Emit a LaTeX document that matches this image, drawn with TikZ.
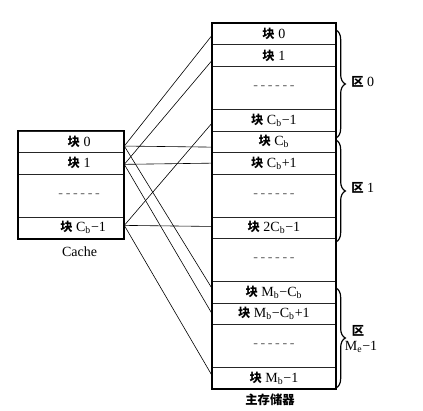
\documentclass[tikz,border=0pt]{standalone}
\usepackage{fontspec}
\setmainfont{Liberation Serif}
\newfontfamily\cjk[Scale=0.88]{Noto Sans CJK SC}
\usetikzlibrary{decorations.pathreplacing}
\newcommand\kuai{{\cjk\bfseries 块}\ }
\newcommand\qu{{\cjk\bfseries 区}}
\newcommand\dashrow{\textcolor{black!60}{-\kern2pt-\kern2pt-\kern2pt-\kern2pt-\kern2pt-}}
\newcommand\sbs[1]{\textsubscript{#1}}
\begin{document}
\begin{tikzpicture}[x=0.75pt,y=-0.75pt,
  font=\fontsize{10.5}{12}\selectfont,
  mcell/.style={draw=black!85, line width=0.6pt, minimum width=123*0.75pt,
    minimum height=21.5*0.75pt, inner sep=0pt, anchor=north west},
  ccell/.style={mcell, minimum width=105.5*0.75pt},
  tworow/.style={minimum height=43*0.75pt},
  ctext/.style={inner sep=0pt},
  outer/.style={draw=black, line width=1.3pt},
  link/.style={draw=black, line width=0.45pt},
  brc/.style={draw=black, line width=0.9pt, decorate,
    decoration={brace, amplitude=7pt}},
  lbl/.style={inner sep=0pt}]
\useasboundingbox (0,0) rectangle (423,410);

% main memory
\node[mcell] (m0) at (212,23) {\kuai 0};
\node[mcell] (m1) at (212,44.5) {\kuai 1};
\node[mcell,tworow] (m2) at (212,66) {\dashrow};
\node[mcell] (m4) at (212,109) {\kuai C\sbs{b}−1};
\node[mcell] (m5) at (212,130.5) {\kuai C\sbs{b}};
\node[mcell] (m6) at (212,152) {\kuai C\sbs{b}+1};
\node[mcell,tworow] (m7) at (212,173.5) {\dashrow};
\node[mcell] (m9) at (212,216.5) {\kuai 2C\sbs{b}−1};
\node[mcell,tworow] (m10) at (212,238) {\dashrow};
\node[mcell] (m12) at (212,281) {\kuai M\sbs{b}−C\sbs{b}};
\node[mcell] (m13) at (212,302.5) {\kuai M\sbs{b}−C\sbs{b}+1};
\node[mcell,tworow] (m14) at (212,324) {\dashrow};
\node[mcell] (m16) at (212,367) {\kuai M\sbs{b}−1};
\draw[outer] (m0.north west) rectangle (m16.south east);

% cache
\node[ccell] (c0) at (18,130.5) {};
\node[ccell] (c1) at (18,152) {};
\node[ccell,tworow] (c2) at (18,173.5) {};
\node[ccell] (c3) at (18,216.5) {};
\draw[outer] (c0.north west) rectangle (c3.south east);
\node[ctext] (tc0) at ([xshift=6pt]c0.center) {\kuai 0};
\node[ctext] (tc1) at ([xshift=6pt]c1.center) {\kuai 1};
\node[ctext] (tc2) at ([xshift=6pt]c2.center) {\dashrow};
\node[ctext] (tc3) at ([xshift=9pt]c3.center) {\kuai C\sbs{b}−1};

% mapping lines
\draw[link] ([yshift=-3.3pt]c0.east) -- ([yshift=-0.9pt]m0.west);
\draw[link] ([yshift=-3.3pt]c0.east) -- ([yshift=-4.1pt]m5.west);
\draw[link] ([yshift=-3.3pt]c0.east) -- ([yshift=2.8pt]m12.west);
\draw[link] ([yshift=-0.9pt]c1.east) -- ([yshift=-3.6pt]m1.west);
\draw[link] ([yshift=-0.9pt]c1.east) -- (m6.west);
\draw[link] ([yshift=-0.9pt]c1.east) -- (m13.west);
\draw[link] ([yshift=1.7pt]c3.east) -- ([yshift=-2.2pt]m4.west);
\draw[link] ([yshift=1.7pt]c3.east) -- ([yshift=0.9pt]m9.west);
\draw[link] ([yshift=1.7pt]c3.east) -- ([yshift=2pt]m16.west);

% braces
\draw[brc] (336,30) -- (336,138);
\draw[brc] (336,140) -- (336,242);
\draw[brc] (336,288) -- (336,388);
\node[lbl,anchor=west] (z0) at (351,82) {\qu\ 0};
\node[lbl,anchor=west] (z1) at (351,188) {\qu\ 1};
\node[lbl] (z2) at (358,331) {\qu};
\node[lbl] (z3) at (361,347) {M\sbs{e}−1};

% captions
\node[lbl] (cl) at (79.5,252) {Cache};
\node[lbl] (ml) at (270,400) {\cjk\bfseries 主存储器};
\end{tikzpicture}
\end{document}
